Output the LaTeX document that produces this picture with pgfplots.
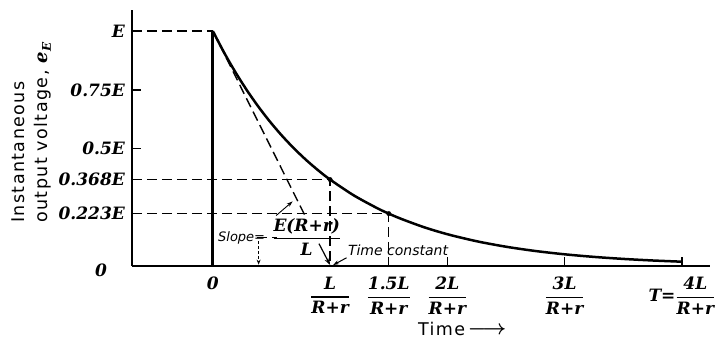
\documentclass[border=0pt]{standalone}
\usepackage{pgfplots}
\pgfplotsset{compat=1.18}
\usetikzlibrary{arrows.meta}
\usepackage{amsmath}
\usepackage{fontspec}
\setmainfont{DejaVu Serif}
\newfontfamily\labfont{DejaVu Sans}[LetterSpace=8]
\newfontfamily\annfont{DejaVu Sans}
\newcommand\tf{\fontsize{17bp}{20bp}\selectfont\rmfamily\bfseries\itshape}
\newcommand\fr[2]{$\genfrac{}{}{1.3bp}{0}{\text{#1}}{\text{#2}}$}
\begin{document}
\begin{tikzpicture}
\begin{axis}[
  scale only axis, width=578bp, height=256bp,
  xmin=-0.69, xmax=4.24, ymin=0, ymax=1.09,
  axis lines*=left, axis line style={line width=2.2bp},
  clip=false,
  tick align=inside, major tick length=9bp,
  tick style={line width=1.6bp, black},
  ytick={0.5,0.75}, yticklabels={0.5E,0.75E},
  extra y ticks={0.223,0.368,1}, extra y tick labels={0.223E,0.368E,E},
  extra y tick style={major tick length=0pt},
  xtick={2,3,4}, xticklabels={{\fr{2L}{R+r}},{\fr{3L}{R+r}},{T=\fr{4L}{R+r}}},
  extra x ticks={0,1,1.5}, extra x tick labels={{0},{\fr{L}{R+r}},{\fr{1.5L}{R+r}}},
  extra x tick style={major tick length=0pt},
  tick label style={font=\tf, inner sep=0pt},
  yticklabel style={anchor=east, xshift=-7bp},
  xticklabel style={anchor=north, yshift=-11bp},
]
% exponential decay curve e^{-t}
\addplot[line width=2.5bp, smooth] coordinates {
(0,1) (0.1,0.9048) (0.2,0.8187) (0.3,0.7408) (0.4,0.6703) (0.5,0.6065)
(0.6,0.5488) (0.7,0.4966) (0.8,0.4493) (0.9,0.4066) (1.0,0.3679)
(1.2,0.3012) (1.4,0.2466) (1.5,0.2231) (1.6,0.2019) (1.8,0.1653)
(2.0,0.1353) (2.25,0.1054) (2.5,0.0821) (2.75,0.0639) (3.0,0.0498)
(3.25,0.0388) (3.5,0.0302) (3.75,0.0235) (4.0,0.0183)};
\addplot[only marks, mark=*, mark size=2.2bp] coordinates {(1,0.3679) (1.5,0.2231)};
\draw[line width=3bp] (0,0) -- (0,1);
\begin{scope}[line width=1.4bp, dash pattern=on 10bp off 5bp]
\draw (-0.69,1) -- (0,1);
\draw (-0.69,0.368) -- (1,0.368) -- (1,0);
\draw (-0.69,0.223) -- (1.5,0.223) -- (1.5,0);
\draw (0,1) -- (0.79,0.21);
\draw (0.375,0.122) -- (0.55,0.122);
\end{scope}
\draw[line width=1.2bp, -{Stealth[length=7bp,width=5bp]}] (0.905,0.095) -- (1,0.004);
\node[anchor=west, inner sep=0, font={\fontsize{13bp}{15bp}\selectfont\annfont\itshape}] at (0.043,0.119) {Slope=};
\node[inner sep=0] at (0.80,0.123) {\fontsize{17bp}{20bp}\selectfont\rmfamily\bfseries\itshape\fr{E(R+r)}{L}};
\draw[line width=0.9bp, -{Stealth[length=6bp,width=4bp]}] (0.54,0.215) -- (0.68,0.275);
\draw[line width=1bp, densely dashed, -{Stealth[length=5bp,width=4bp]}] (0.39,0.105) -- (0.39,0.006);
\node[anchor=west, inner sep=0, font={\fontsize{14bp}{16bp}\selectfont\annfont\itshape}] at (1.151,0.068) {Time constant};
\draw[line width=1bp, -{Stealth[length=6bp,width=4bp]}] (1.14,0.035) -- (1.025,0.004);
\node[inner sep=0] at (-0.955,-0.017) {\tf 0};
\node[rotate=90, anchor=west, align=left, inner sep=0, font={\fontsize{17.5bp}{23bp}\selectfont\labfont}] at (-1.544,0.183)
  {Instantaneous\\output voltage, {\fontsize{18bp}{18bp}\selectfont\rmfamily\bfseries\itshape e\raisebox{-3bp}{\fontsize{12bp}{12bp}\selectfont E}}};
\node[anchor=base west, inner sep=0, font={\fontsize{17.5bp}{20bp}\selectfont\labfont}] at (1.748,-0.294) {Time\,\raisebox{1bp}{\fontsize{20bp}{20bp}\selectfont$\boldsymbol{\longrightarrow}$}};
\end{axis}
\pgfresetboundingbox
\path (current axis.south west) ++(-132bp,-78bp) rectangle ++(718bp,344bp);
\end{tikzpicture}
\end{document}
